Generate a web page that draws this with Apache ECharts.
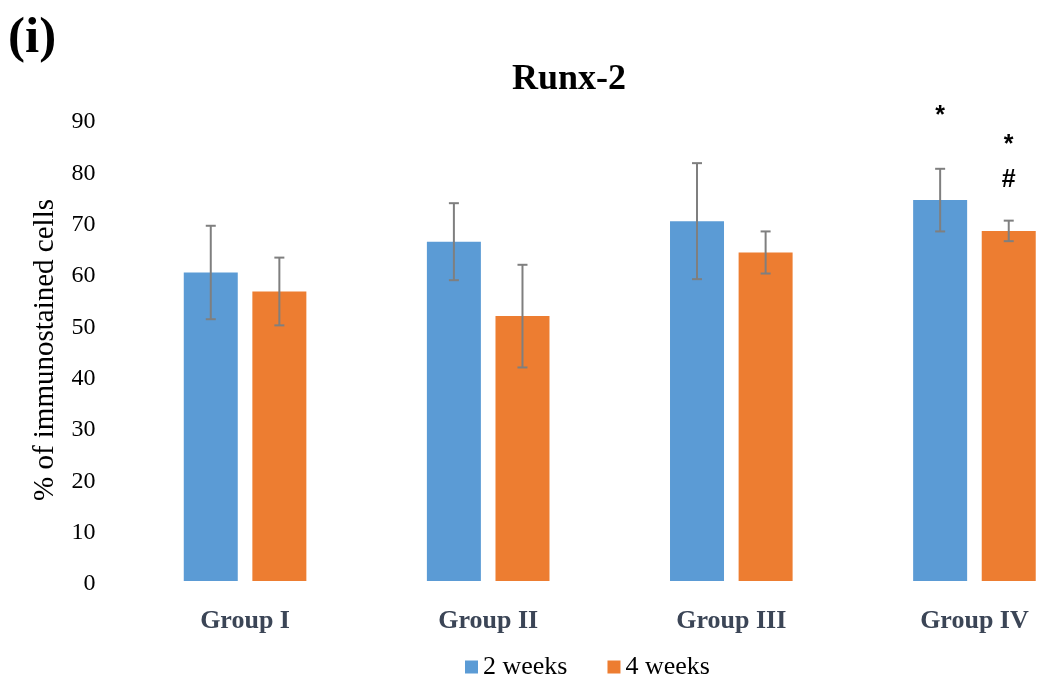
<!DOCTYPE html>
<html>
<head>
<meta charset="utf-8">
<script src="https://cdn.jsdelivr.net/npm/echarts@6/dist/echarts.min.js"></script>
<style>html,body{margin:0;padding:0;background:#fff;overflow:hidden;}#c{width:1096px;height:677px;}</style>
</head>
<body>
<div id="c"></div>
<script>
const categories = ['Group I', 'Group II', 'Group III', 'Group IV'];
const seriesNames = ['2 weeks', '4 weeks'];
const weeks2 = [60.1, 66.1, 70.1, 74.2];
const weeks4 = [56.4, 51.6, 64.0, 68.2];
const err2 = [9.1, 7.5, 11.3, 6.1];
const err4 = [6.6, 10.0, 4.1, 2.0];
const yTicks = [0, 10, 20, 30, 40, 50, 60, 70, 80, 90];
// significance marks: [category index, series index, y value, text]
const marks = [[3, 0, 90.5, '*'], [3, 1, 85.0, '*'], [3, 1, 78.1, '#']];

const colors = ['#5b9bd5', '#ed7d31'];
const barWidth = 54;
const gapPx = 14.6;
const offsetPx = (barWidth + gapPx) / 2;
const serif = '"Liberation Serif", "Times New Roman", serif';

const errData = [];
[weeks2, weeks4].forEach((vals, s) => {
  const errs = s === 0 ? err2 : err4;
  vals.forEach((v, i) => errData.push([i, v - errs[i], v + errs[i], s]));
});

const chart = echarts.init(document.getElementById('c'));
chart.setOption({
  animation: false,
  color: colors,
  graphic: [
    { type: 'text', left: 8, top: 13, style: { text: '(i)', font: 'bold 51px ' + serif, fill: '#000' } },
    { type: 'text', x: 569, y: 80, style: { text: 'Runx-2', font: 'bold 36px ' + serif, fill: '#000', textAlign: 'center', textVerticalAlign: 'middle' } }
  ],
  legend: {
    data: seriesNames,
    left: 460, top: 649,
    icon: 'rect', itemWidth: 13, itemHeight: 13, itemGap: 40,
    textStyle: { fontFamily: serif, fontSize: 26, color: '#000' }
  },
  grid: { left: 123.5, right: 0, top: 119, bottom: 96, containLabel: false },
  xAxis: {
    type: 'category', data: categories,
    axisLine: { show: false }, axisTick: { show: false },
    axisLabel: { fontFamily: serif, fontSize: 26, fontWeight: 'bold', color: '#3b4556', margin: 27 }
  },
  yAxis: {
    type: 'value', min: yTicks[0], max: yTicks[yTicks.length - 1], interval: 10,
    name: '% of immunostained cells', nameLocation: 'middle', nameGap: 64,
    nameTextStyle: { fontFamily: serif, fontSize: 29, color: '#000' },
    axisLine: { show: false }, axisTick: { show: false }, splitLine: { show: false },
    axisLabel: {
      margin: 28,
      formatter: '{a|{value}}',
      rich: { a: { fontFamily: serif, fontSize: 24, color: '#000', padding: [6, 0, 0, 0] } }
    }
  },
  series: [
    { name: seriesNames[0], type: 'bar', data: weeks2, barWidth: barWidth, barGap: (gapPx / barWidth * 100) + '%' },
    { name: seriesNames[1], type: 'bar', data: weeks4, barWidth: barWidth, barGap: (gapPx / barWidth * 100) + '%' },
    {
      type: 'custom', data: errData, z: 10, silent: true,
      renderItem: function (params, api) {
        const i = api.value(0), s = api.value(3);
        const off = s === 0 ? -offsetPx : offsetPx;
        const lo = api.coord([i, api.value(1)]);
        const hi = api.coord([i, api.value(2)]);
        const x = lo[0] + off;
        const cap = 5;
        const st = { stroke: '#7f7f7f', lineWidth: 2 };
        return { type: 'group', children: [
          { type: 'line', shape: { x1: x, y1: lo[1], x2: x, y2: hi[1] }, style: st },
          { type: 'line', shape: { x1: x - cap, y1: lo[1], x2: x + cap, y2: lo[1] }, style: st },
          { type: 'line', shape: { x1: x - cap, y1: hi[1], x2: x + cap, y2: hi[1] }, style: st }
        ]};
      }
    },
    {
      type: 'custom', data: marks, z: 11, silent: true, clip: false,
      renderItem: function (params, api) {
        const m = marks[params.dataIndex];
        const p = api.coord([m[0], m[2]]);
        const x = p[0] + (m[1] === 0 ? -offsetPx : offsetPx);
        return { type: 'text', x: x, y: p[1], style: { text: m[3], font: 'bold 25px "Liberation Sans", Arial, sans-serif', fill: '#000', textAlign: 'center', textVerticalAlign: 'middle' } };
      }
    }
  ]
});
</script>
</body>
</html>
